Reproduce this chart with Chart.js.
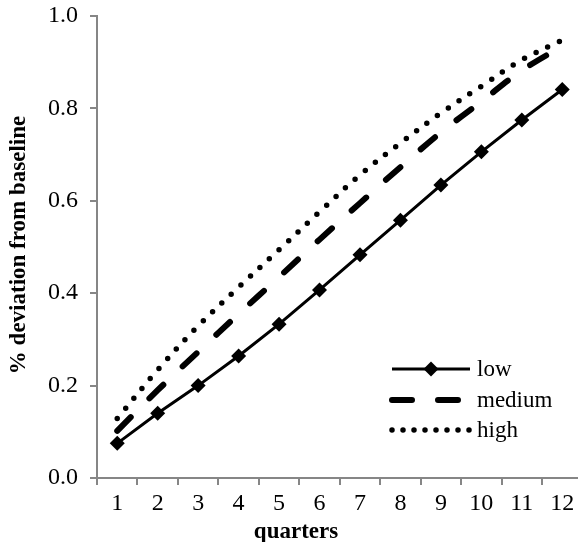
<!DOCTYPE html>
<html>
<head>
<meta charset="utf-8">
<script src="https://cdn.jsdelivr.net/npm/chart.js@4.4.1/dist/chart.umd.min.js"></script>
<style>
  html, body { margin: 0; padding: 0; background: #fff; overflow: hidden; }
</style>
</head>
<body>
<canvas id="chart" width="590" height="542"></canvas>
<script>
'use strict';

// quarters on x, deviation share on y
const quarters = ['1', '2', '3', '4', '5', '6', '7', '8', '9', '10', '11', '12'];
const low = [0.075, 0.140, 0.200, 0.264, 0.333, 0.407, 0.483, 0.558, 0.634, 0.706, 0.775, 0.841];
const medium = [0.102, 0.190, 0.273, 0.355, 0.435, 0.516, 0.595, 0.673, 0.748, 0.815, 0.882, 0.935];
const high = [0.129, 0.234, 0.329, 0.413, 0.494, 0.576, 0.656, 0.725, 0.790, 0.848, 0.905, 0.948];
const seriesNames = ['low', 'medium', 'high'];
const xTitle = 'quarters';
const yTitle = '% deviation from baseline';

const SERIF = '"Liberation Serif", "Times New Roman", serif';
const AXIS_GREY = '#868686';

// legend rows drawn with each dataset's own stroke
const lineLegend = {
  id: 'lineLegend',
  afterDatasetsDraw(chart) {
    const ctx = chart.ctx;
    const x0 = 392, x1 = 470, rowY = [369, 400, 430];
    chart.data.datasets.forEach((ds, i) => {
      const y = rowY[i];
      ctx.save();
      ctx.strokeStyle = ds.borderColor;
      ctx.lineWidth = ds.borderWidth;
      ctx.lineCap = ds.borderCapStyle || 'butt';
      ctx.setLineDash(ds.legendDash || ds.borderDash || []);
      ctx.beginPath();
      ctx.moveTo(x0, y);
      ctx.lineTo(x1, y);
      ctx.stroke();
      ctx.setLineDash([]);
      if (ds.pointRadius > 0) {
        ctx.fillStyle = ds.pointBackgroundColor;
        Chart.helpers.drawPoint(ctx, {
          pointStyle: ds.pointStyle,
          radius: ds.pointRadius,
          borderWidth: 0,
          rotation: 0
        }, (x0 + x1) / 2, y);
      }
      ctx.fillStyle = '#000';
      ctx.font = '23px ' + SERIF;
      ctx.textBaseline = 'middle';
      ctx.fillText(ds.label, 477, y + 1);
      ctx.restore();
    });
  }
};

// axis titles, placed by hand
const axisTitles = {
  id: 'axisTitles',
  afterDraw(chart) {
    const ctx = chart.ctx;
    ctx.save();
    ctx.fillStyle = '#000';
    ctx.font = 'bold 23px ' + SERIF;
    ctx.textAlign = 'center';
    ctx.textBaseline = 'middle';
    ctx.fillText(xTitle, 296, 532);
    ctx.translate(19, 245);
    ctx.rotate(-Math.PI / 2);
    ctx.fillText(yTitle, 0, 0);
    ctx.restore();
  }
};

const ctx = document.getElementById('chart');
const chart = new Chart(ctx, {
  type: 'line',
  data: {
    labels: quarters,
    datasets: [{
      label: seriesNames[0],
      data: low,
      borderColor: '#000',
      borderWidth: 3,
      tension: 0,
      pointStyle: 'rectRot',
      pointRadius: 7.5,
      pointBackgroundColor: '#000',
      pointBorderWidth: 0
    }, {
      label: seriesNames[1],
      data: medium,
      borderColor: '#000',
      borderWidth: 6,
      borderDash: [19, 27],
      legendDash: [20, 26],
      borderCapStyle: 'round',
      tension: 0.35,
      pointRadius: 0
    }, {
      label: seriesNames[2],
      data: high,
      borderColor: '#000',
      borderWidth: 5.5,
      borderDash: [0, 13],
      legendDash: [0, 11],
      borderCapStyle: 'round',
      tension: 0.35,
      pointRadius: 0
    }]
  },
  options: {
    responsive: false,
    animation: false,
    devicePixelRatio: 1,
    layout: { padding: { top: 16, right: 5, left: 0, bottom: 0 } },
    plugins: {
      legend: { display: false },
      tooltip: { enabled: false }
    },
    scales: {
      x: {
        offset: true,
        afterFit: scale => { scale.height = 64; },
        border: { color: AXIS_GREY, width: 2 },
        grid: {
          offset: true,
          drawOnChartArea: false,
          color: AXIS_GREY,
          lineWidth: 2,
          tickLength: 7
        },
        ticks: {
          color: '#000',
          padding: 4,
          maxRotation: 0,
          font: { family: SERIF, size: 24 }
        }
      },
      y: {
        min: 0,
        max: 1,
        afterFit: scale => {
          scale.width = 97;
          scale.paddingTop = 0;
          scale.paddingBottom = 0;
        },
        border: { color: AXIS_GREY, width: 2 },
        grid: {
          drawOnChartArea: false,
          color: AXIS_GREY,
          lineWidth: 2,
          tickLength: 7
        },
        ticks: {
          stepSize: 0.2,
          color: '#000',
          padding: 12,
          font: { family: SERIF, size: 24 },
          callback: v => v.toFixed(1)
        }
      }
    }
  },
  plugins: [lineLegend, axisTitles]
});
</script>
</body>
</html>
